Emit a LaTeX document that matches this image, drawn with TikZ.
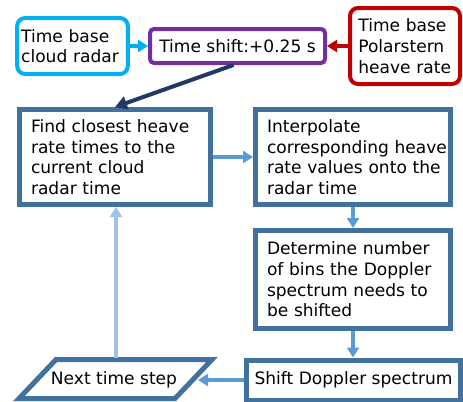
\documentclass[tikz,border=0pt]{standalone}
\usepackage{fontspec}
\setmainfont{DejaVu Sans}
\usetikzlibrary{arrows.meta}
\definecolor{cyanc}{HTML}{00B0F0}
\definecolor{purplec}{HTML}{7030A0}
\definecolor{redc}{HTML}{C00000}
\definecolor{navyc}{HTML}{203864}
\definecolor{boxc}{HTML}{41719C}
\definecolor{arrowc}{HTML}{5B9BD5}
\definecolor{palec}{HTML}{9DC3E6}
\tikzset{
  x=0.75pt, y=-0.75pt,
  every node/.style={font=\fontsize{12.8pt}{15.5pt}\selectfont, text=black},
  inbox/.style={draw, line width=3pt, rounded corners=6pt, fill=white},
  procbox/.style={draw=boxc, line width=3.75pt, fill=white, align=left, inner xsep=8.6pt, text width=126pt, minimum height=71.25pt},
  conn/.style={line width=3pt, -{Triangle[length=7.5pt,width=9pt]}},
}
\begin{document}
\begin{tikzpicture}
\useasboundingbox (0,0) rectangle (463,401);
\node[inbox, draw=cyanc, align=left, text width=77pt, inner xsep=3pt, minimum height=42pt] (cr) at (72.5,46) {\mbox{Time base}\\\mbox{cloud radar}};
\node[inbox, draw=purplec, rounded corners=3pt, minimum width=131.25pt, minimum height=25.5pt, inner xsep=2pt] (ts) at (237.5,46) {Time shift:+0.25 s};
\node[inbox, draw=redc, align=left, text width=70pt, inner xsep=6.25pt, minimum height=57pt] (pr) at (405,46) {\mbox{Time base}\\\mbox{Polarstern}\\\mbox{heave rate}};
\node[procbox] (find) at (115,157) {\mbox{Find closest heave}\\\mbox{rate times to the}\\\mbox{current cloud}\\\mbox{radar time}};
\node[procbox, text width=129pt] (interp) at (353,157) {\mbox{Interpolate}\\\mbox{corresponding heave}\\\mbox{rate values onto the}\\\mbox{radar time}};
\node[procbox, text width=129pt, minimum height=73.5pt] (det) at (353,279.5) {\mbox{Determine number}\\\mbox{of bins the Doppler}\\\mbox{spectrum needs to}\\\mbox{be shifted}};
\node[draw=boxc, line width=3.75pt, fill=white, minimum width=160.5pt, minimum height=30pt, inner xsep=2pt] (shift) at (353.5,380) {Shift Doppler spectrum};
% parallelogram "Next time step"
\draw[boxc, line width=3.75pt, line join=miter, fill=white] (56,359.5) -- (212,359.5) -- (175,398.5) -- (19,398.5) -- cycle;
\node (next) at (114,380) {Next time step};
\coordinate (nextR) at (198,379);
\coordinate (nextT) at (116,357.5);
\draw[conn, cyanc] (cr.east) -- (ts.west);
\draw[conn, redc] (pr.west) -- (ts.east);
\draw[conn, navyc, -{Triangle[length=9pt,width=10pt]}] ([xshift=-3pt]ts.south) -- (find.north);
\draw[conn, arrowc] (find.east) -- (interp.west);
\draw[conn, arrowc] (interp.south) -- (det.north);
\draw[conn, arrowc] (det.south) -- (det.south |- shift.north);
\draw[conn, arrowc] (shift.west) -- (shift.west -| nextR);
\draw[conn, palec] (nextT) -- (nextT |- find.south);
\end{tikzpicture}
\end{document}
